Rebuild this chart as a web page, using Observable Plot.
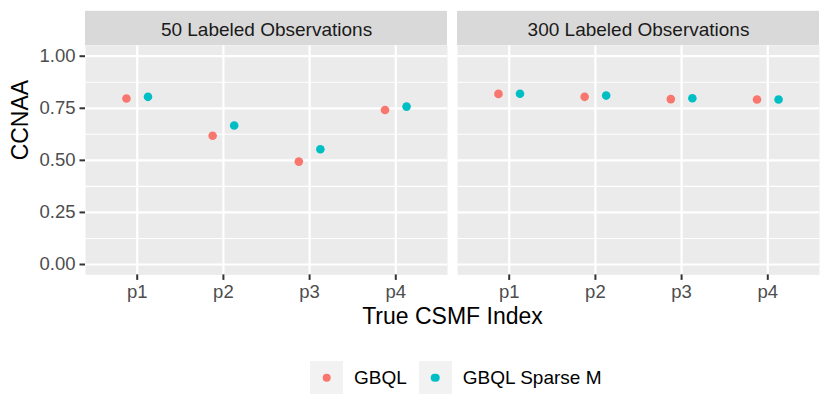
<!DOCTYPE html>
<html><head><meta charset="utf-8">
<script src="https://cdn.jsdelivr.net/npm/d3@7"></script>
<script src="https://cdn.jsdelivr.net/npm/@observablehq/plot@0.6"></script>
<style>
body{margin:0;background:#fff;font-family:"Liberation Sans",Arial,sans-serif}
#wrap{position:relative;width:830px;height:415px;background:#fff}
#legend{position:absolute;left:310px;top:361px;display:flex;align-items:center;font-size:19px;color:#000;font-family:"Liberation Sans",Arial,sans-serif}
.key{width:33px;height:33px;background:#F2F2F2;position:relative;flex:none}
.key span{position:absolute;left:50%;top:50%;width:8.6px;height:8.6px;border-radius:50%;transform:translate(-50%,-50%)}
.lab{margin-left:11px;margin-right:12px;line-height:33px}
</style></head>
<body><div id="wrap"><div id="chart"></div><div id="legend"></div></div>
<script>
const panels = ["50 Labeled Observations", "300 Labeled Observations"];
const categories = ["p1", "p2", "p3", "p4"];
const methods = ["GBQL", "GBQL Sparse M"];
const colors = ["#F8766D", "#00BFC4"];
const gbql50 = [0.797, 0.618, 0.494, 0.742];
const sparse50 = [0.805, 0.667, 0.553, 0.758];
const gbql300 = [0.819, 0.805, 0.794, 0.792];
const sparse300 = [0.820, 0.811, 0.798, 0.792];
const yTicks = [0, 0.25, 0.5, 0.75, 1];
const yMinor = [0.125, 0.375, 0.625, 0.875];
const yTitle = ["CCNAA"];
const xTitle = ["True CSMF Index"];

const xDomain = [0.4, categories.length + 0.6];
const yDomain = [-0.05, 1.05];
const dodge = 0.125;

const series = [
  [panels[0], methods[0], gbql50],
  [panels[0], methods[1], sparse50],
  [panels[1], methods[0], gbql300],
  [panels[1], methods[1], sparse300]
];
const table = series.flatMap(([panel, method, vals]) =>
  vals.map((v, i) => ({panel, method, cat: categories[i], ci: i, value: v})));

function strip(index, scales) {
  const x0 = scales.x(xDomain[0]), x1 = scales.x(xDomain[1]);
  const yTop = scales.y(yDomain[1]);
  return d3.create("svg:rect")
    .attr("x", x0).attr("width", x1 - x0)
    .attr("y", yTop - 34.5).attr("height", 34.5)
    .attr("fill", "#D9D9D9").node();
}

const chart = Plot.plot({
  width: 830,
  height: 340,
  marginLeft: 84,
  marginRight: 10,
  marginTop: 45.3,
  marginBottom: 65.6,
  style: {fontFamily: "Liberation Sans, Arial, sans-serif", fontSize: "18.5px", background: "white", overflow: "visible"},
  fx: {domain: panels, paddingInner: 0.0268, paddingOuter: 0, axis: null, label: null},
  x: {domain: xDomain, label: null},
  y: {domain: yDomain, label: null},
  color: {domain: methods, range: colors},
  marks: [
    Plot.frame({fill: "#EBEBEB"}),
    strip,
    Plot.gridY(yMinor, {stroke: "white", strokeOpacity: 1, strokeWidth: 1.1}),
    Plot.gridY(yTicks, {stroke: "white", strokeOpacity: 1, strokeWidth: 2.2}),
    Plot.gridX([1, 2, 3, 4], {stroke: "white", strokeOpacity: 1, strokeWidth: 2.2}),
    Plot.axisY({ticks: yTicks, tickFormat: d3.format(".2f"), tickSize: 5.5, tickPadding: 4.5,
      stroke: "#333333", strokeWidth: 2, fill: "#4D4D4D", fontSize: 18.5, label: null}),
    Plot.axisX({ticks: [1, 2, 3, 4], tickFormat: d => categories[d - 1], tickSize: 5.5, tickPadding: 4.3,
      stroke: "#333333", strokeWidth: 2, fill: "#4D4D4D", fontSize: 18.5, label: null}),
    Plot.text(panels, {fx: d => d, text: d => d, frameAnchor: "top", dy: -15.9, lineAnchor: "middle",
      fontSize: 19, fill: "#1A1A1A"}),
    Plot.dot(table, {fx: "panel",
      x: d => d.ci + 1 + (d.method === methods[0] ? -dodge : dodge),
      y: "value", fill: "method", r: 4.3, stroke: "none"}),
    Plot.text(yTitle, {facet: "super", text: d => d, frameAnchor: "left", dx: -65, rotate: -90,
      lineAnchor: "middle", fontSize: 23, fill: "black"}),
    Plot.text(xTitle, {facet: "super", text: d => d, frameAnchor: "bottom", dy: 41.6,
      lineAnchor: "middle", fontSize: 23, fill: "black"})
  ]
});
document.getElementById("chart").appendChild(chart);

const legend = document.getElementById("legend");
methods.forEach((m, i) => {
  const k = document.createElement("div");
  k.className = "key";
  const s = document.createElement("span");
  s.style.background = colors[i];
  k.appendChild(s);
  const t = document.createElement("div");
  t.className = "lab";
  t.textContent = m;
  legend.appendChild(k);
  legend.appendChild(t);
});
</script>
</body></html>
